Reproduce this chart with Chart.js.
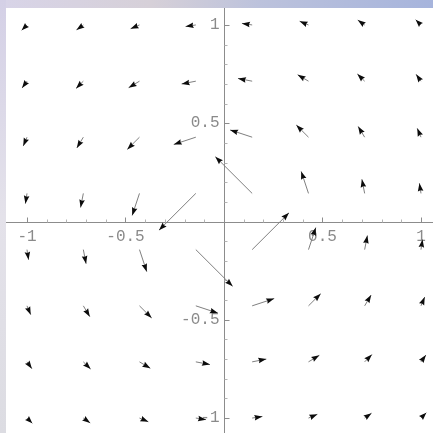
<!DOCTYPE html>
<html>
<head>
<meta charset="utf-8">
<script src="https://cdn.jsdelivr.net/npm/chart.js@4"></script>
<style>
  html, body { margin: 0; padding: 0; background: #ffffff; }
  #field { display: block; }
</style>
</head>
<body>
<canvas id="field" width="433" height="433"></canvas>
<script>
// sample grid (tails of the arrows), rows run top to bottom
const gridX = [-1, -0.714, -0.429, -0.143, 0.143, 0.429, 0.714, 1];
const gridY = [1, 0.714, 0.429, 0.143, -0.143, -0.429, -0.714, -1];

// arrow components, one row per gridY value
const flowU = [
  [-0.027, -0.035, -0.045, -0.052, -0.052, -0.045, -0.035, -0.027],
  [-0.025, -0.037, -0.055, -0.072, -0.072, -0.055, -0.037, -0.025],
  [-0.019, -0.033, -0.062, -0.112, -0.112, -0.062, -0.033, -0.019],
  [-0.008, -0.014, -0.037, -0.187, -0.187, -0.037, -0.014, -0.008],
  [ 0.008,  0.014,  0.037,  0.187,  0.187,  0.037,  0.014,  0.008],
  [ 0.019,  0.033,  0.062,  0.112,  0.112,  0.062,  0.033,  0.019],
  [ 0.025,  0.037,  0.055,  0.072,  0.072,  0.055,  0.037,  0.025],
  [ 0.027,  0.035,  0.045,  0.052,  0.052,  0.045,  0.035,  0.027]
];
const flowV = [
  [-0.027, -0.025, -0.019, -0.008,  0.008,  0.019,  0.025,  0.027],
  [-0.035, -0.037, -0.033, -0.014,  0.014,  0.033,  0.037,  0.035],
  [-0.045, -0.055, -0.062, -0.037,  0.037,  0.062,  0.055,  0.045],
  [-0.052, -0.072, -0.112, -0.187,  0.187,  0.112,  0.072,  0.052],
  [-0.052, -0.072, -0.112, -0.187,  0.187,  0.112,  0.072,  0.052],
  [-0.045, -0.055, -0.062, -0.037,  0.037,  0.062,  0.055,  0.045],
  [-0.035, -0.037, -0.033, -0.014,  0.014,  0.033,  0.037,  0.035],
  [-0.027, -0.025, -0.019, -0.008,  0.008,  0.019,  0.025,  0.027]
];

// axis ticks
const majorTicks = [-1, -0.5, 0.5, 1];
const majorLabels = ['-1', '-0.5', '0.5', '1'];
const minorTicks = [-0.9, -0.8, -0.7, -0.6, -0.4, -0.3, -0.2, -0.1,
                    0.1, 0.2, 0.3, 0.4, 0.6, 0.7, 0.8, 0.9];

// one two-point line per arrow: tail -> head
const arrows = [];
gridY.forEach((gy, j) => {
  gridX.forEach((gx, i) => {
    arrows.push({
      data: [{x: gx, y: gy}, {x: gx + flowU[j][i], y: gy + flowV[j][i]}],
      showLine: true,
      borderColor: '#808080',
      borderWidth: 1,
      pointRadius: 0,
      pointHoverRadius: 0
    });
  });
});

// slide-style backdrop strips and the crossing axes
const backdrop = {
  id: 'backdrop',
  beforeDraw(chart) {
    const c = chart.ctx;
    const w = chart.width, h = chart.height;
    c.save();
    c.fillStyle = '#ffffff';
    c.fillRect(0, 0, w, h);
    const top = c.createLinearGradient(0, 0, w, 0);
    top.addColorStop(0, '#d8d4e8');
    top.addColorStop(0.35, '#d6d0d8');
    top.addColorStop(0.6, '#bcc2dc');
    top.addColorStop(1, '#a6b4dc');
    c.fillStyle = top;
    c.fillRect(0, 0, w, 8);
    const left = c.createLinearGradient(0, 0, 0, h);
    left.addColorStop(0, '#d4d0e6');
    left.addColorStop(0.5, '#e4e2ea');
    left.addColorStop(1, '#dcdce2');
    c.fillStyle = left;
    c.fillRect(0, 0, 6, h);
    c.restore();
  },
  beforeDatasetsDraw(chart) {
    const c = chart.ctx;
    const xs = chart.scales.x, ys = chart.scales.y;
    const x0 = Math.round(xs.getPixelForValue(0)) + 0.5;
    const y0 = Math.round(ys.getPixelForValue(0)) + 0.5;
    c.save();
    c.strokeStyle = '#8c8c8c';
    c.lineWidth = 1;
    c.beginPath();
    c.moveTo(6, y0); c.lineTo(chart.width, y0);
    c.moveTo(x0, 8); c.lineTo(x0, chart.height);
    c.stroke();

    c.strokeStyle = '#b4b4b4';
    c.beginPath();
    minorTicks.forEach(v => {
      const px = Math.round(xs.getPixelForValue(v)) + 0.5;
      c.moveTo(px, y0); c.lineTo(px, y0 - 3);
      const py = Math.round(ys.getPixelForValue(v)) + 0.5;
      c.moveTo(x0, py); c.lineTo(x0 + 3, py);
    });
    c.stroke();
    c.strokeStyle = '#8c8c8c';
    c.beginPath();
    majorTicks.forEach(v => {
      const px = Math.round(xs.getPixelForValue(v)) + 0.5;
      c.moveTo(px, y0); c.lineTo(px, y0 - 5);
      const py = Math.round(ys.getPixelForValue(v)) + 0.5;
      c.moveTo(x0, py); c.lineTo(x0 + 5, py);
    });
    c.stroke();

    c.fillStyle = '#8a8a8a';
    c.font = '16px "Liberation Mono", monospace';
    c.textAlign = 'center';
    c.textBaseline = 'top';
    majorTicks.forEach((v, k) => {
      c.fillText(majorLabels[k], xs.getPixelForValue(v), y0 + 6);
    });
    c.textAlign = 'right';
    c.textBaseline = 'middle';
    majorTicks.forEach((v, k) => {
      c.fillText(majorLabels[k], x0 - 5, ys.getPixelForValue(v));
    });
    c.restore();
  }
};

// filled heads at the second point of every arrow
const arrowHeads = {
  id: 'arrowHeads',
  afterDatasetsDraw(chart) {
    const c = chart.ctx;
    c.save();
    c.fillStyle = '#0c0c0c';
    chart.data.datasets.forEach((ds, k) => {
      const pts = chart.getDatasetMeta(k).data;
      const a = pts[0], b = pts[1];
      const dx = b.x - a.x, dy = b.y - a.y;
      const len = Math.hypot(dx, dy);
      if (len < 0.5) return;
      const ux = dx / len, uy = dy / len;
      const hl = Math.min(8, len);
      const hw = 2.8;
      c.beginPath();
      c.moveTo(b.x, b.y);
      c.lineTo(b.x - ux * hl - uy * hw, b.y - uy * hl + ux * hw);
      c.lineTo(b.x - ux * hl * 0.88, b.y - uy * hl * 0.88);
      c.lineTo(b.x - ux * hl + uy * hw, b.y - uy * hl - ux * hw);
      c.closePath();
      c.fill();
    });
    c.restore();
  }
};

const ctx = document.getElementById('field').getContext('2d');
const fieldChart = new Chart(ctx, {
  type: 'scatter',
  data: { datasets: arrows },
  options: {
    responsive: false,
    animation: false,
    events: [],
    layout: { padding: 0 },
    scales: {
      x: { type: 'linear', min: -1.137, max: 1.061, display: false },
      y: { type: 'linear', min: -1.076, max: 1.127, display: false }
    },
    plugins: {
      legend: { display: false },
      tooltip: { enabled: false }
    }
  },
  plugins: [backdrop, arrowHeads]
});
</script>
</body>
</html>
